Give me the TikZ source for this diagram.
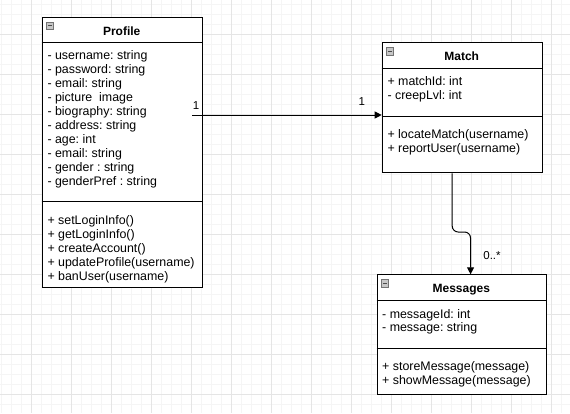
\documentclass[tikz,border=0pt]{standalone}
\usepackage{fontspec}
\setmainfont{Liberation Sans}
\usetikzlibrary{arrows.meta}
\begin{document}
\frenchspacing
\begin{tikzpicture}[x=1pt,y=-1pt,
  txt/.style={anchor=base west, inner sep=0pt, font=\fontsize{12.4}{14}\selectfont\frenchspacing},
  ttl/.style={anchor=base, inner sep=0pt, font=\fontsize{12}{14}\selectfont\bfseries},
  cls/.style={draw, line width=1pt, fill=white, rectangle, inner sep=0pt, anchor=north west},
  iconbox/.style={draw=black!55, fill=black!22, line width=0.8pt, rectangle, inner sep=0pt, minimum size=7.5pt, anchor=north west},
  divider/.style={line width=1pt},
  conn/.style={line width=1pt, -{Triangle[length=7pt,width=7pt]}},
  lbl/.style={inner sep=0pt, font=\fontsize{11.5}{13}\selectfont},
  minorgrid/.style={draw=black!4, line width=1pt},
  majorgrid/.style={draw=black!10, line width=1pt}]
\useasboundingbox (0,0) rectangle (570,413);
\fill[white] (0,0) rectangle (570,413);
% grid
\foreach \x in {1,11,...,561} \draw[minorgrid] (\x,0) -- (\x,413);
\foreach \y in {4,14,...,404} \draw[minorgrid] (0,\y) -- (570,\y);
\foreach \x in {31,71,...,551} \draw[majorgrid] (\x,0) -- (\x,413);
\foreach \y in {34,74,...,394} \draw[majorgrid] (0,\y) -- (570,\y);

% Profile
\node[cls, minimum width=160pt, minimum height=270.5pt] (profile) at (41.7,16.7) {};
\draw[divider] ([yshift=-26pt]profile.north west) -- ([yshift=-26pt]profile.north east);
\draw[divider] ([yshift=-185pt]profile.north west) -- ([yshift=-185pt]profile.north east);
\node[iconbox] (picon) at ([xshift=4pt,yshift=-5pt]profile.north west) {};
\draw[black!70, line width=0.8pt] ([xshift=-2pt]picon.center) -- ([xshift=2pt]picon.center);
\node[ttl] (ptitle) at (121.7,35) {Profile};
\foreach \t [count=\i from 0] in {- username: string, - password: string, - email: string, - picture~ image, - biography: string, - address: string, - age: int, - email: string, - gender : string, - genderPref : string}
  \node[txt] (pa\i) at (47.3,59.7+14*\i) {\t};
\foreach \t [count=\i from 0] in {+ setLoginInfo(), + getLoginInfo(), + createAccount(), + updateProfile(username), + banUser(username)}
  \node[txt] (pm\i) at (47.3,224+14*\i) {\t};

% Match
\node[cls, minimum width=160pt, minimum height=130pt] (match) at (381.7,42.3) {};
\draw[divider] ([yshift=-26pt]match.north west) -- ([yshift=-26pt]match.north east);
\draw[divider] ([yshift=-73.7pt]match.north west) -- ([yshift=-73.7pt]match.north east);
\node[iconbox] (micon) at ([xshift=4pt,yshift=-5pt]match.north west) {};
\draw[black!70, line width=0.8pt] ([xshift=-2pt]micon.center) -- ([xshift=2pt]micon.center);
\node[ttl] (mtitle) at (461.7,60.6) {Match};
\node[txt] (ma0) at (387.3,85.7) {+ matchId: int};
\node[txt] (ma1) at (387.3,99.7) {- creepLvl: int};
\node[txt] (mm0) at (387.3,138) {+ locateMatch(username)};
\node[txt] (mm1) at (387.3,152) {+ reportUser(username)};

% Messages
\node[cls, minimum width=169.3pt, minimum height=119.7pt] (messages) at (376.7,274.3) {};
\draw[divider] ([yshift=-26.4pt]messages.north west) -- ([yshift=-26.4pt]messages.north east);
\draw[divider] ([yshift=-74.4pt]messages.north west) -- ([yshift=-74.4pt]messages.north east);
\node[iconbox] (sicon) at ([xshift=4pt,yshift=-5pt]messages.north west) {};
\draw[black!70, line width=0.8pt] ([xshift=-2pt]sicon.center) -- ([xshift=2pt]sicon.center);
\node[ttl] (stitle) at (461.3,292.6) {Messages};
\node[txt] (sa0) at (382,318) {- messageId: int};
\node[txt] (sa1) at (382,331.7) {- message: string};
\node[txt] (sm0) at (382,370) {+ storeMessage(message)};
\node[txt] (sm1) at (382,384) {+ showMessage(message)};

% connectors
\coordinate (p1) at (192,115);
\draw[conn] (p1) -- (p1 -| match.west);
\node[lbl] (l1) at (196,106) {1};
\node[lbl] (l2) at (361.7,102) {1};

\coordinate (a2) at ([xshift=-10pt]match.south);
\coordinate (b2) at ([xshift=8.7pt]messages.north);
\draw[conn, rounded corners=6pt] (a2) -- (a2 |- 0,232) -- (b2 |- 0,232) -- (b2);
\node[lbl] (l3) at (492,256) {0..*};
\end{tikzpicture}
\end{document}
